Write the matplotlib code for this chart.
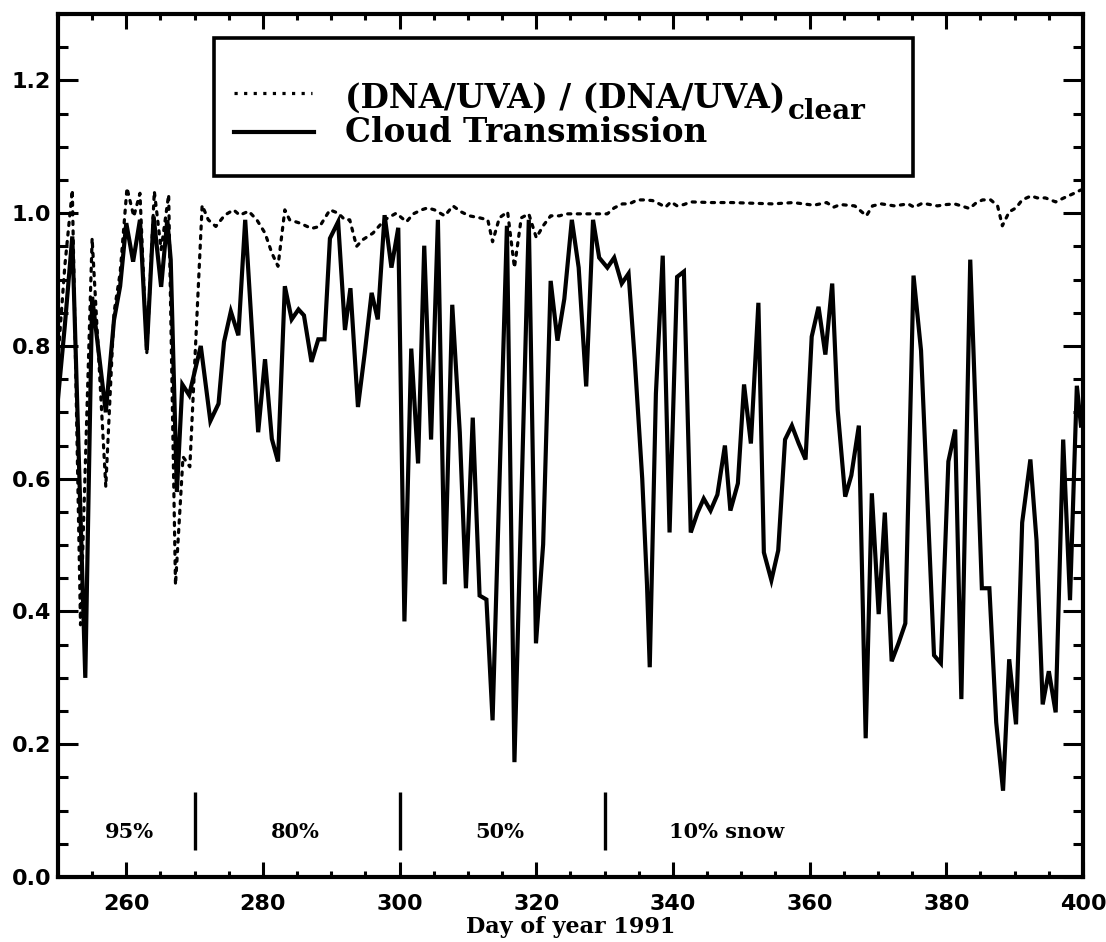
import matplotlib
matplotlib.use('Agg')
import matplotlib.pyplot as plt
from matplotlib.patches import Rectangle
from matplotlib.ticker import MultipleLocator, FormatStrFormatter

plt.rcParams.update({
    'font.family': 'DejaVu Sans',
})

# Cloud transmission (solid)
ct_day = [250.0, 251.0, 252.1, 254.0, 255.0, 257.0, 258.2, 259.1, 260.0, 261.0,
          262.0, 263.0, 264.0, 265.1, 266.0, 266.5, 267.4, 268.2, 269.2, 270.9,
          272.3, 273.5, 274.3, 275.3, 276.4, 277.4, 279.3, 280.3, 281.3, 282.2,
          283.2, 284.2, 285.2, 286.0, 287.1, 288.1, 289.0, 289.8, 291.0, 292.0,
          292.8, 293.9, 294.9, 295.9, 296.8, 297.8, 298.8, 299.8, 300.7, 301.7,
          302.7, 303.6, 304.6, 305.6, 306.6, 307.7, 308.8, 309.7, 310.7, 311.7,
          312.7, 313.6, 315.7, 316.8, 318.9, 319.95, 321.0, 322.1, 323.1, 324.1,
          325.2, 326.2, 327.3, 328.3, 329.2, 330.4, 331.4, 332.5, 333.5, 334.4,
          335.5, 336.2, 336.6, 337.5, 338.5, 339.5, 340.6, 341.6, 342.6, 343.6,
          344.5, 345.5, 346.5, 347.6, 348.4, 349.5, 350.4, 351.4, 352.5, 353.3,
          354.4, 355.4, 356.4, 357.4, 358.4, 359.4, 360.3, 361.3, 362.3, 363.3,
          364.1, 365.2, 366.1, 367.2, 368.2, 369.1, 370.1, 371.0, 372.0, 373.0,
          374.0, 375.2, 376.3, 378.2, 379.2, 380.3, 381.3, 382.2, 383.5, 385.2,
          386.3, 387.3, 388.3, 389.2, 390.2, 391.1, 392.3, 393.2, 394.1, 395.0,
          396.0, 397.1, 398.1, 399.1, 399.7]
ct_val = [0.72, 0.83, 0.965, 0.30, 0.874, 0.70, 0.839, 0.89, 0.985, 0.927,
          0.99, 0.794, 0.995, 0.889, 0.99, 0.93, 0.58, 0.742, 0.726, 0.80,
          0.687, 0.713, 0.806, 0.852, 0.816, 0.99, 0.67, 0.78, 0.66, 0.626,
          0.89, 0.84, 0.855, 0.846, 0.776, 0.81, 0.81, 0.962, 0.987, 0.824,
          0.887, 0.708, 0.79, 0.88, 0.84, 0.997, 0.918, 0.978, 0.385, 0.796,
          0.623, 0.951, 0.659, 0.99, 0.441, 0.862, 0.67, 0.435, 0.692, 0.424,
          0.418, 0.236, 0.981, 0.173, 0.99, 0.352, 0.501, 0.898, 0.808, 0.871,
          0.99, 0.918, 0.739, 0.99, 0.933, 0.918, 0.933, 0.894, 0.909, 0.78,
          0.60, 0.44, 0.316, 0.728, 0.936, 0.519, 0.904, 0.912, 0.519, 0.549,
          0.57, 0.552, 0.576, 0.65, 0.552, 0.593, 0.742, 0.653, 0.865, 0.489,
          0.447, 0.492, 0.659, 0.68, 0.653, 0.629, 0.814, 0.859, 0.787, 0.894,
          0.704, 0.573, 0.605, 0.68, 0.209, 0.578, 0.396, 0.549, 0.325, 0.352,
          0.382, 0.906, 0.793, 0.334, 0.322, 0.626, 0.674, 0.268, 0.93, 0.435,
          0.435, 0.233, 0.13, 0.328, 0.23, 0.534, 0.629, 0.507, 0.26, 0.31,
          0.248, 0.659, 0.417, 0.74, 0.68]

# (DNA/UVA) / (DNA/UVA)clear (dotted)
rt_day = [250.0, 251.0, 252.1, 253.3, 255.0, 257.0, 258.2, 259.1, 260.1, 261.1,
          262.0, 263.0, 264.1, 265.1, 266.2, 267.2, 268.3, 269.3, 271.1, 272.0,
          273.1, 274.4, 275.7, 276.6, 277.9, 279.1, 280.3, 281.3, 282.2, 283.2,
          283.9, 285.4, 287.1, 288.3, 289.8, 291.0, 292.0, 292.7, 293.7, 294.6,
          296.1, 297.8, 299.5, 301.0, 302.0, 303.2, 304.1, 305.1, 306.6, 307.8,
          309.0, 310.2, 311.7, 312.9, 313.6, 314.6, 315.8, 316.8, 317.8, 318.9,
          320.0, 321.0, 322.1, 323.4, 324.3, 325.5, 326.8, 328.0, 329.2, 330.4,
          331.4, 332.6, 333.6, 334.8, 335.8, 337.0, 338.2, 338.9, 339.7, 340.6,
          341.6, 342.6, 345.6, 348.6, 351.6, 354.6, 357.6, 360.6, 362.5, 363.5,
          364.5, 366.6, 368.3, 369.2, 370.5, 372.4, 374.4, 375.3, 376.5, 378.7,
          380.0, 381.2, 382.2, 383.4, 384.3, 385.3, 386.5, 387.5, 388.2, 389.2,
          390.2, 391.1, 392.4, 393.3, 394.5, 396.0, 397.2, 398.5, 399.7]
rt_val = [0.78, 0.92, 1.035, 0.38, 0.962, 0.588, 0.85, 0.91, 1.038, 0.995,
          1.03, 0.789, 1.033, 0.945, 1.028, 0.44, 0.633, 0.618, 1.012, 0.99,
          0.98, 0.997, 1.005, 0.997, 1.003, 0.99, 0.97, 0.94, 0.92, 1.005,
          0.99, 0.985, 0.977, 0.98, 1.005, 1.0, 0.99, 0.99, 0.95, 0.96,
          0.97, 0.99, 1.0, 0.987, 0.999, 1.005, 1.008, 1.005, 0.996, 1.011,
          1.002, 0.996, 0.993, 0.99, 0.957, 0.993, 1.002, 0.918, 0.993, 0.999,
          0.963, 0.981, 0.996, 0.996, 0.999, 0.999, 0.999, 0.999, 0.999, 0.999,
          1.008, 1.014, 1.014, 1.02, 1.02, 1.019, 1.013, 1.009, 1.017, 1.011,
          1.013, 1.017, 1.016, 1.016, 1.015, 1.014, 1.016, 1.012, 1.016, 1.009,
          1.013, 1.011, 0.996, 1.011, 1.014, 1.011, 1.014, 1.009, 1.015, 1.011,
          1.013, 1.014, 1.011, 1.007, 1.015, 1.02, 1.02, 1.011, 0.981, 1.002,
          1.008, 1.02, 1.026, 1.023, 1.023, 1.017, 1.023, 1.029, 1.035]

# snow cover periods
snow_bounds = [270, 300, 330]
snow_labels = ['95%', '80%', '50%', '10% snow']
snow_label_x = [260.5, 284.7, 314.6, 347.8]

fig = plt.figure(figsize=(11.06, 9.42), dpi=100)
ax = fig.add_axes([0.0524, 0.069, 0.9268, 0.9161])

ax.plot(rt_day, rt_val, color='black', lw=2.3, linestyle=(0, (1, 2)),
        dash_capstyle='round')
ax.plot(ct_day, ct_val, color='black', lw=3.0, solid_joinstyle='miter')

ax.vlines(snow_bounds, 0.04, 0.128, color='black', lw=2.4)
for x, lab in zip(snow_label_x, snow_labels):
    ax.text(x, 0.068, lab, ha='center', va='center', fontsize=15,
            family='DejaVu Serif', fontweight='bold')

ax.set_xlim(250, 400)
ax.set_ylim(0, 1.3)
ax.xaxis.set_major_locator(MultipleLocator(20))
ax.xaxis.set_minor_locator(MultipleLocator(5))
ax.yaxis.set_major_locator(MultipleLocator(0.2))
ax.yaxis.set_minor_locator(MultipleLocator(0.05))
ax.yaxis.set_major_formatter(FormatStrFormatter('%.1f'))

ax.tick_params(which='both', direction='in', top=True, right=True, width=2.2,
               labelsize=16)
ax.tick_params(axis='y', which='major', length=14.5, pad=5)
ax.tick_params(axis='y', which='minor', length=7.5)
ax.tick_params(axis='x', which='major', length=11, pad=12)
ax.tick_params(axis='x', which='minor', length=4.5)
for lab in ax.get_xticklabels() + ax.get_yticklabels():
    lab.set_fontweight('bold')
for sp in ax.spines.values():
    sp.set_linewidth(3)

ax.set_xlabel('Day of year 1991', fontsize=16, family='DejaVu Serif',
              fontweight='bold', labelpad=2)

# legend box drawn by hand
ax.add_patch(Rectangle((0.152, 0.812), 0.682, 0.160, transform=ax.transAxes,
                       fill=False, edgecolor='black', lw=2.6, zorder=5))
ax.plot([0.172, 0.248], [0.908, 0.908], transform=ax.transAxes, color='black',
        lw=2.3, linestyle=(0, (1, 2)))
ax.plot([0.172, 0.250], [0.863, 0.863], transform=ax.transAxes, color='black',
        lw=3.0)
t1 = ax.text(0.280, 0.892, '(DNA/UVA) / (DNA/UVA)', transform=ax.transAxes,
             fontsize=23.5, family='DejaVu Serif', fontweight='bold',
             va='baseline')
ax.annotate('clear', xy=(1, 0), xycoords=t1, xytext=(3, -5),
            textcoords='offset pixels', fontsize=20, family='DejaVu Serif',
            fontweight='bold', va='baseline')
ax.text(0.280, 0.852, 'Cloud Transmission', transform=ax.transAxes,
        fontsize=23.5, family='DejaVu Serif', fontweight='bold', va='baseline')

fig.savefig('out.png', dpi=100)
